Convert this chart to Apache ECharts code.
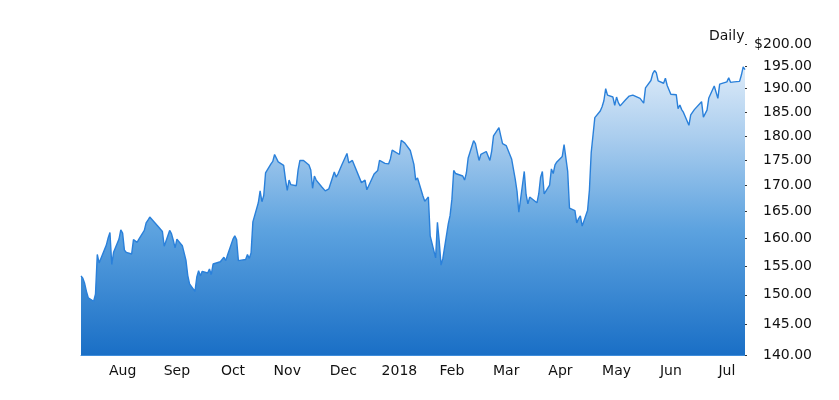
<!DOCTYPE html>
<html>
<head>
<meta charset="utf-8">
<script src="https://cdn.jsdelivr.net/npm/echarts@6/dist/echarts.min.js"></script>
<style>
html,body{margin:0;padding:0;background:#fff;}
#chart{width:839px;height:400px;}
</style>
</head>
<body>
<div id="chart"></div>
<script>
// Trading days (weekdays, market holidays skipped) and daily closes
const holidays = ['2017-09-04','2017-11-23','2017-12-25','2018-01-01','2018-01-15','2018-02-19','2018-03-30','2018-05-28','2018-07-04'];
const startDate = '2017-07-24';
const endDate = '2018-07-26';
const closes = [
  // Jul 2017 (24..31)
  153.3,152.9,152.0,150.6,149.5,148.9,
  // Aug 2017
  150.1,157.1,155.6,156.4,158.8,160.1,161.1,155.3,157.5,159.9,161.6,161.0,157.9,157.5,157.2,159.8,160.0,159.3,159.9,161.5,162.9,163.4,164.0,
  // Sep 2017
  164.1,162.1,161.9,161.3,158.6,161.5,160.9,159.7,158.3,159.9,158.7,158.7,156.1,153.4,151.9,150.6,153.1,154.2,153.3,154.1,
  // Oct 2017
  153.8,154.5,153.5,155.4,155.3,155.8,155.9,156.6,156.0,157.0,159.9,160.5,159.8,156.0,156.3,156.2,157.1,156.4,157.4,163.1,166.7,169.0,
  // Nov 2017
  166.9,168.1,172.5,174.3,174.8,176.2,175.9,174.7,174.0,171.3,169.1,171.1,170.2,170.0,173.1,175.0,175.0,174.1,173.1,169.5,171.9,
  // Dec 2017
  171.1,169.8,169.6,169.0,169.3,169.4,172.7,171.7,172.3,172.2,174.0,176.4,174.5,174.4,175.0,175.0,170.6,170.6,171.1,169.2,
  // Jan 2018
  172.3,172.2,173.0,175.0,174.4,174.3,174.3,175.3,177.1,176.2,179.1,179.3,178.5,177.0,177.0,174.2,171.1,171.5,168.0,167.0,167.4,
  // Feb 2018
  167.8,160.5,156.5,163.0,159.5,155.2,156.4,162.7,164.3,167.4,173.0,172.4,171.9,171.1,172.5,175.5,179.0,178.4,178.1,
  // Mar 2018
  175.0,176.2,176.8,176.7,175.0,176.9,180.0,181.7,180.0,178.4,178.7,178.0,175.3,175.2,171.3,168.9,164.9,172.8,168.3,166.5,167.8,
  // Apr 2018
  166.7,168.4,171.6,172.8,168.4,170.1,173.3,172.4,174.1,174.7,175.8,178.2,177.8,172.8,165.7,165.2,162.9,163.7,164.2,162.3,165.3,
  // May 2018
  169.1,176.6,176.9,183.8,185.2,186.1,187.4,190.0,188.6,188.2,186.4,188.2,187.0,186.3,187.6,187.2,188.4,188.2,188.6,187.9,187.5,186.9,
  // Jun 2018
  190.2,191.8,193.3,194.0,193.5,191.7,191.2,192.3,190.7,190.8,188.8,188.7,185.7,186.5,185.5,184.9,182.2,184.4,184.2,185.5,185.1,
  // Jul 2018 (to 26)
  187.2,183.9,185.4,188.0,190.6,190.4,187.9,191.0,191.3,191.5,192.4,191.4,191.6,191.5,191.6,193.0,194.8,194.2
];
const yTicks = [140,145,150,155,160,165,170,175,180,185,190,195,200];
const monthLabels = ['2018','Feb','Mar','Apr','May','Jun','Jul','Aug','Sep','Oct','Nov','Dec'];
const monthLabelDates = ['2017-08-16','2017-09-15','2017-10-16','2017-11-15','2017-12-16','2018-01-16','2018-02-14','2018-03-16','2018-04-15','2018-05-16','2018-06-15','2018-07-16'];
const seriesName = 'Daily';

function pad(n){return (n<10?'0':'')+n;}
function ts(s){return new Date(s+'T12:00:00').getTime();}
const tradingDates = [];
(function(){
  let d = new Date(startDate + 'T12:00:00');
  const end = new Date(endDate + 'T12:00:00');
  while (d <= end) {
    const s = d.getFullYear()+'-'+pad(d.getMonth()+1)+'-'+pad(d.getDate());
    const wd = d.getDay();
    if (wd !== 0 && wd !== 6 && holidays.indexOf(s) < 0) tradingDates.push(s);
    d.setDate(d.getDate()+1);
  }
})();
const data = tradingDates.map((s,i)=>[ts(s), closes[Math.min(i, closes.length-1)]]);

const chart = echarts.init(document.getElementById('chart'), null, {renderer:'canvas'});
const FONT = '"DejaVu Sans", Verdana, sans-serif';
chart.setOption({
  animation:false,
  backgroundColor:'#ffffff',
  title:{text:seriesName, left:704, top:24, textStyle:{fontFamily:FONT, fontSize:14, fontWeight:'normal', color:'#111'}},
  grid:{left:81, right:94, top:44, bottom:45, containLabel:false},
  xAxis:{
    type:'value',
    min: ts(startDate),
    max: ts(endDate),
    axisLine:{show:true, lineStyle:{color:'#3f8ddb', width:1}},
    axisTick:{show:false},
    splitLine:{show:false},
    axisLabel:{
      customValues: monthLabelDates.map(ts),
      formatter:function(v){const d=new Date(v); return monthLabels[d.getMonth()];},
      fontFamily:FONT, fontSize:14, color:'#111', margin:9, hideOverlap:false
    }
  },
  yAxis:{
    type:'log',
    logBase:10,
    position:'right',
    min:140, max:200,
    axisLine:{show:false},
    splitLine:{show:false},
    axisTick:{show:true, customValues:yTicks, length:2, inside:false, lineStyle:{color:'#333', width:1}},
    axisLabel:{
      customValues:yTicks,
      formatter:function(v){const r=Math.round(v); return (r===200?'$':'')+r.toFixed(2);},
      fontFamily:FONT, fontSize:14, color:'#111', align:'right', margin:67
    }
  },
  series:[{
    name:seriesName,
    type:'line',
    data:data,
    symbol:'none',
    lineStyle:{color:'#2a80da', width:1.4},
    areaStyle:{
      origin:'start',
      opacity:1,
      color:new echarts.graphic.LinearGradient(0,44,0,355,[
        {offset:0,color:'#eef5fc'},
        {offset:0.3,color:'#aacdee'},
        {offset:0.6,color:'#5ca2df'},
        {offset:1,color:'#1a6fc6'}
      ], true)
    }
  }]
});
</script>
</body>
</html>
